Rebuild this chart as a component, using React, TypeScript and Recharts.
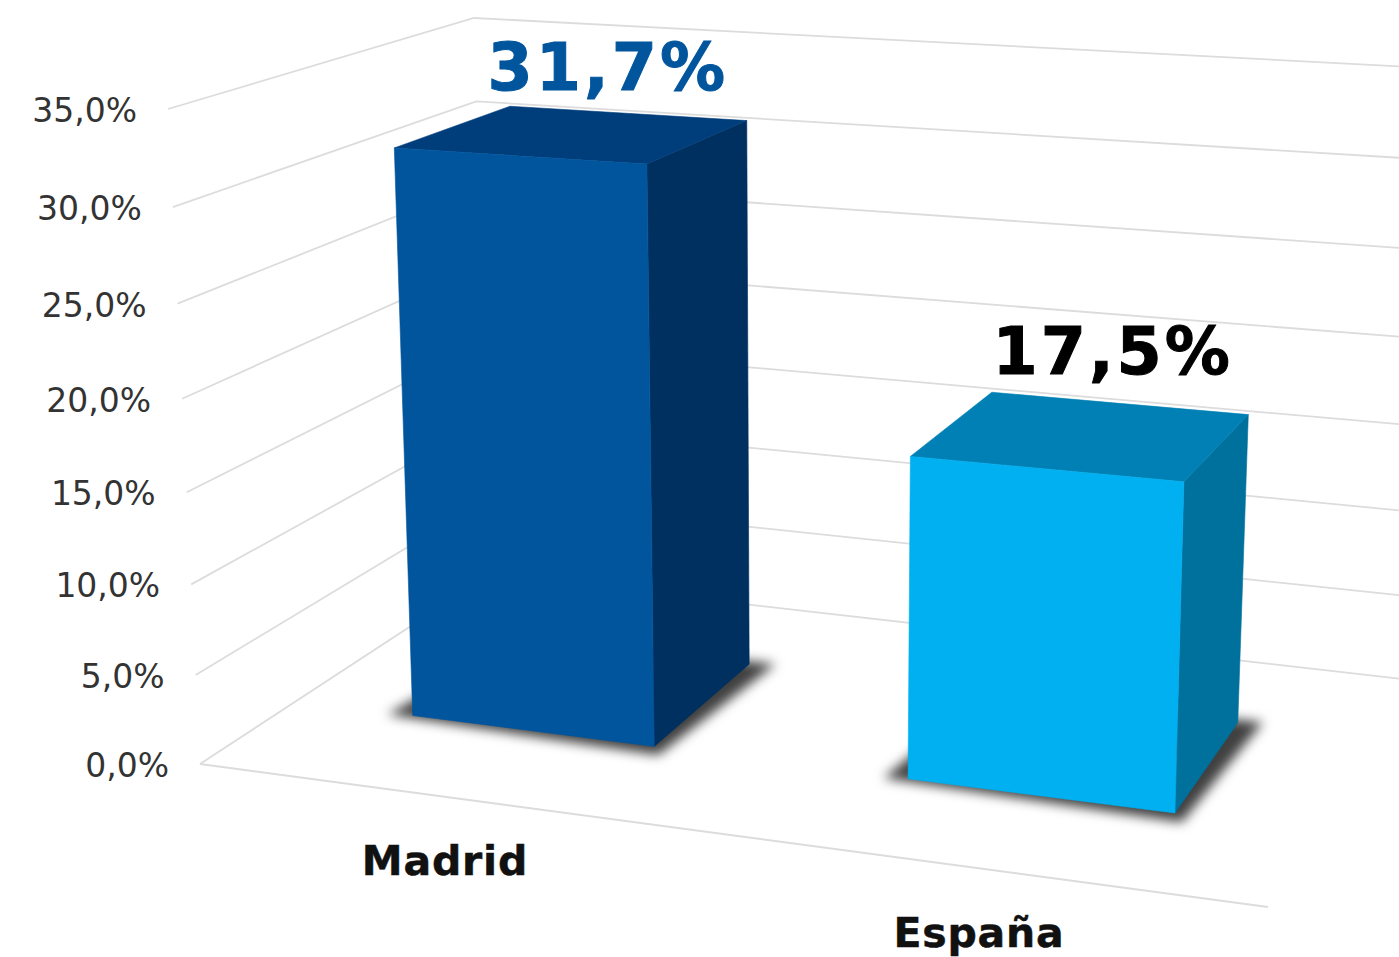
import { Bar, BarChart, CartesianGrid, LabelList, XAxis, YAxis } from 'recharts';

const categories = ['Madrid', 'España'];
const values = [31.7, 17.5];
const yTicks = [0, 5, 10, 15, 20, 25, 30, 35];

const frontColors = ['#00559D', '#00B0F0'];
const topColors = ['#003D7B', '#0080B4'];
const sideColors = ['#00305F', '#00709C'];
const labelColors = ['#00559D', '#000000'];

const WIDTH = 1399;
const HEIGHT = 957;
const Y_MAX = 35;
const FONT = '"DejaVu Sans", Verdana, sans-serif';

const chartData = categories.map((name, i) => ({ name, value: values[i], index: i }));

// room corners on screen, [x, y], named floor/ceiling + front/back + left/right
const room = {
  ffl: [200, 764],
  ffr: [1268, 907],
  fbl: [489, 575],
  fbr: [1402, 679],
  cfl: [168, 109],
  cfr: [1291, 176],
  cbl: [474, 18],
  cbr: [1432, 68],
};

// the 3D look: plot px from the flat scales go through these warps and a trilinear map
const warpX = (u: number) => u + 0.1 * u * (u - 1);
const warpY = (t: number) => t + 0.056 * t * (t - 1);

function project(u: number, t: number, z: number): [number, number] {
  const mix = (k: 0 | 1) => {
    const floor =
      (1 - z) * ((1 - u) * room.ffl[k] + u * room.ffr[k]) + z * ((1 - u) * room.fbl[k] + u * room.fbr[k]);
    const ceil =
      (1 - z) * ((1 - u) * room.cfl[k] + u * room.cfr[k]) + z * ((1 - u) * room.cbl[k] + u * room.cbr[k]);
    return (1 - t) * floor + t * ceil;
  };
  return [mix(0), mix(1)];
}

const pts = (list: [number, number][]) => list.map((p) => p.join(',')).join(' ');

const Z_FRONT = 0.335;
const Z_BACK = 0.74;

function Box3D(props: any) {
  const { x, y, width, payload } = props;
  const i = payload.index;
  const u0 = warpX(x / WIDTH);
  const u1 = warpX((x + width) / WIDTH);
  const t = warpY((HEIGHT - y) / HEIGHT);

  const frontFace = [project(u0, 0, Z_FRONT), project(u1, 0, Z_FRONT), project(u1, t, Z_FRONT), project(u0, t, Z_FRONT)];
  const sideFace = [project(u1, 0, Z_FRONT), project(u1, 0, Z_BACK), project(u1, t, Z_BACK), project(u1, t, Z_FRONT)];
  const topFace = [project(u0, t, Z_FRONT), project(u1, t, Z_FRONT), project(u1, t, Z_BACK), project(u0, t, Z_BACK)];
  const shadow = [
    project(u0 - 0.022, 0, Z_FRONT - 0.01),
    project(u1 + 0.012, 0, Z_FRONT - 0.035),
    project(u1 + 0.024, 0, Z_BACK + 0.015),
    project(u0, 0, Z_BACK),
  ];

  return (
    <g>
      <polygon points={pts(shadow)} fill="#404040" style={{ filter: 'blur(6px)' }} />
      <polygon points={pts(sideFace)} fill={sideColors[i]} stroke={sideColors[i]} strokeWidth={0.6} />
      <polygon points={pts(topFace)} fill={topColors[i]} stroke={topColors[i]} strokeWidth={0.6} />
      <polygon points={pts(frontFace)} fill={frontColors[i]} stroke={frontColors[i]} strokeWidth={0.6} />
    </g>
  );
}

function GridLine(props: any) {
  const t = warpY((HEIGHT - props.y1) / HEIGHT);
  const isFloor = props.y1 >= HEIGHT - 0.5;
  return (
    <g key={props.key}>
      <polyline
        points={pts([project(0, t, 0), project(0, t, 1), project(1, t, 1)])}
        fill="none"
        stroke="#dcdcdc"
        strokeWidth={1.8}
      />
      {isFloor && (
        <line
          x1={project(0, 0, 0)[0]}
          y1={project(0, 0, 0)[1]}
          x2={project(1, 0, 0)[0]}
          y2={project(1, 0, 0)[1]}
          stroke="#dcdcdc"
          strokeWidth={1.8}
        />
      )}
    </g>
  );
}

function YTick({ y, payload }: any) {
  const [px, py] = project(0, warpY((HEIGHT - y) / HEIGHT), 0);
  return (
    <text x={px - 31} y={py + 13} textAnchor="end" fontFamily={FONT} fontSize={33} fill="#333333">
      {`${payload.value.toFixed(1).replace('.', ',')}%`}
    </text>
  );
}

function XTick({ x, payload }: any) {
  const [px, py] = project(warpX(x / WIDTH), 0, 0);
  return (
    <text
      x={px - 2}
      y={py + 78}
      textAnchor="middle"
      fontFamily={FONT}
      fontWeight="bold"
      fontSize={41}
      letterSpacing={0.8}
      fill="#111111"
      stroke="#111111"
      strokeWidth={0.5}
    >
      {payload.value}
    </text>
  );
}

const labelNudgeX = [-3, 5];
const labelNudgeY = [-30, -39];

function ValueLabel({ x, y, width, value, index }: any) {
  const [px, py] = project(warpX((x + width / 2) / WIDTH), warpY((HEIGHT - y) / HEIGHT), 0.68);
  return (
    <text
      x={px + labelNudgeX[index]}
      y={py + labelNudgeY[index]}
      textAnchor="middle"
      fontFamily={FONT}
      fontWeight="bold"
      fontSize={65}
      letterSpacing={3}
      fill={labelColors[index]}
      stroke={labelColors[index]}
      strokeWidth={1}
    >
      {`${value.toFixed(1).replace('.', ',')}%`}
    </text>
  );
}

export default function App() {
  return (
    <div style={{ position: 'absolute', left: 0, top: 0, width: WIDTH, height: HEIGHT, background: '#fff', overflow: 'hidden' }}>
      <BarChart
        width={WIDTH}
        height={HEIGHT}
        data={chartData}
        margin={{ top: 0, right: 0, bottom: -1, left: -1 }}
        barCategoryGap="25%"
      >
        <CartesianGrid vertical={false} horizontal={GridLine as any} />
        <XAxis dataKey="name" height={1} axisLine={false} tickLine={false} interval={0} tick={XTick as any} />
        <YAxis
          type="number"
          domain={[0, Y_MAX]}
          ticks={yTicks}
          width={1}
          axisLine={false}
          tickLine={false}
          interval={0}
          tick={YTick as any}
        />
        <Bar dataKey="value" isAnimationActive={false} shape={Box3D as any}>
          <LabelList dataKey="value" content={ValueLabel as any} />
        </Bar>
      </BarChart>
    </div>
  );
}
